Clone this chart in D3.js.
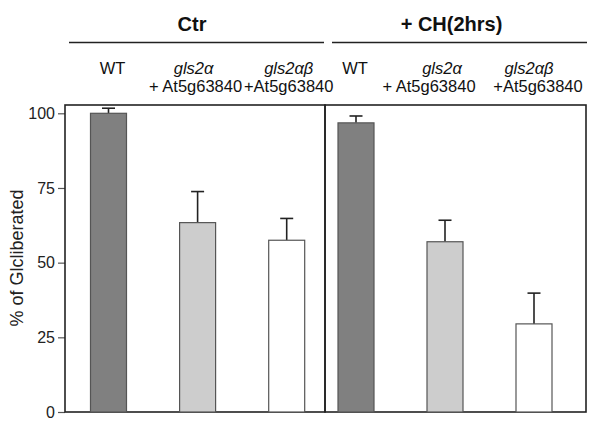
<!DOCTYPE html>
<html>
<head>
<meta charset="utf-8">
<script src="https://cdn.jsdelivr.net/npm/d3@7"></script>
<style>
  body { margin: 0; background: #fff; }
  svg { display: block; font-family: "Liberation Sans", Arial, Helvetica, sans-serif; }
</style>
</head>
<body>
<svg id="chart" width="600" height="428"></svg>
<script>
// ---- data ----
const groups = ["Ctr", "+ CH(2hrs)"];
const genotypes = ["WT", "gls2α", "gls2αβ"];
const genotypeSub = ["", "+ At5g63840", "+At5g63840"];
const ctrValues = [100, 63.4, 57.5];
const ctrErrors = [1.7, 10.4, 7.3];
const chValues = [96.8, 57.0, 29.5];
const chErrors = [2.3, 7.2, 10.3];
const yTicks = [0, 25, 50, 75, 100];
const yLabel = "% of Glcliberated";

// ---- layout ----
const svg = d3.select("#chart");
const plotTop = 105, plotBottom = 412;
const panels = [
  { x0: 65, x1: 325, c0: 108.5, c1: 286.7, values: ctrValues, errors: ctrErrors, lineX: [69, 324], titleX: 192, subDx: [4, -4, 2], lineDx: [4, -2, 2] },
  { x0: 325, x1: 586, c0: 356, c1: 534, values: chValues, errors: chErrors, lineX: [332, 587], titleX: 451.5, subDx: [-1, -3, -5], lineDx: [-1, -16, 4] }
];
const fills = ["#808080", "#cdcdcd", "#ffffff"];
const barW = 36;

const y = d3.scaleLinear().domain([0, 100]).range([plotBottom, 113.3]);

// y axis ticks
const yAxis = d3.axisLeft(y).tickValues(yTicks).tickSize(7).tickPadding(3).tickFormat(d3.format("d"));
const ga = svg.append("g").attr("transform", "translate(65,0)").call(yAxis);
ga.select(".domain").remove();
ga.selectAll(".tick line").attr("stroke", "#555").attr("stroke-width", 1.2);
ga.selectAll(".tick text").attr("font-size", 16).attr("fill", "#222")
  .attr("font-family", "'Liberation Sans', Arial, sans-serif");

// y label
svg.append("text")
  .attr("transform", "translate(23,258) rotate(-90)")
  .attr("text-anchor", "middle")
  .attr("font-size", 18)
  .attr("fill", "#222")
  .text(yLabel);

panels.forEach((p, gi) => {
  const x = d3.scalePoint().domain(genotypes).range([p.c0, p.c1]);

  // panel frame
  svg.append("rect")
    .attr("x", p.x0).attr("y", plotTop)
    .attr("width", p.x1 - p.x0).attr("height", plotBottom - plotTop)
    .attr("fill", "none").attr("stroke", "#222").attr("stroke-width", 1.6);

  // group title
  svg.append("text")
    .attr("x", p.titleX).attr("y", 31)
    .attr("text-anchor", "middle")
    .attr("font-size", 20).attr("font-weight", "bold").attr("fill", "#111")
    .text(groups[gi]);
  svg.append("line")
    .attr("x1", p.lineX[0]).attr("x2", p.lineX[1])
    .attr("y1", 42.5).attr("y2", 42.5)
    .attr("stroke", "#222").attr("stroke-width", 1.6);

  // category labels
  genotypes.forEach((g, i) => {
    const cx = x(g);
    svg.append("text")
      .attr("x", cx + p.subDx[i]).attr("y", 74)
      .attr("text-anchor", "middle")
      .attr("font-size", 16.5)
      .attr("font-style", i === 0 ? "normal" : "italic")
      .attr("fill", "#111")
      .text(g);
    if (genotypeSub[i]) {
      svg.append("text")
        .attr("x", cx + p.lineDx[i]).attr("y", 92)
        .attr("text-anchor", "middle")
        .attr("font-size", 16.5)
        .attr("fill", "#111")
        .text(genotypeSub[i]);
    }
  });

  // error bars
  const eg = svg.append("g");
  genotypes.forEach((g, i) => {
    const cx = x(g);
    const top = y(p.values[i] + p.errors[i]);
    eg.append("line").attr("x1", cx).attr("x2", cx)
      .attr("y1", y(p.values[i])).attr("y2", top)
      .attr("stroke", "#222").attr("stroke-width", 1.6);
    eg.append("line").attr("x1", cx - 6.5).attr("x2", cx + 6.5)
      .attr("y1", top).attr("y2", top)
      .attr("stroke", "#222").attr("stroke-width", 1.6);
  });

  // bars
  svg.append("g").selectAll("rect")
    .data(p.values)
    .join("rect")
    .attr("x", (d, i) => x(genotypes[i]) - barW / 2)
    .attr("y", d => y(d))
    .attr("width", barW)
    .attr("height", d => plotBottom - y(d))
    .attr("fill", (d, i) => fills[i])
    .attr("stroke", "#555")
    .attr("stroke-width", 1.2);
});
</script>
</body>
</html>
